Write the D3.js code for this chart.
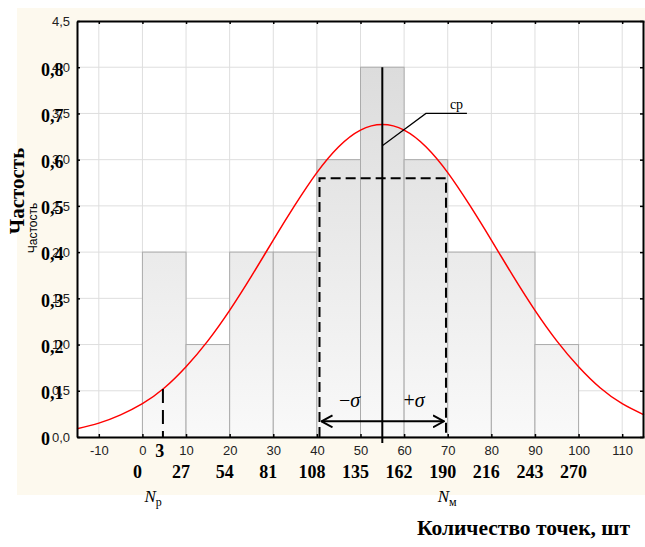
<!DOCTYPE html>
<html>
<head>
<meta charset="utf-8">
<script src="https://cdn.jsdelivr.net/npm/d3@7"></script>
<style>
  html, body { margin: 0; padding: 0; background: #fff; }
  svg { display: block; }
  .serif { font-family: "Liberation Serif", "Times New Roman", serif; }
  .sans { font-family: "Liberation Sans", Arial, sans-serif; }
</style>
</head>
<body>
<svg id="chart" width="645" height="547"></svg>
<script>
/** histogram bins (left edges, width 10) and their frequencies */
const binEdges = [0, 10, 20, 30, 40, 50, 60, 70, 80, 90, 100];
const counts = [2, 1, 2, 2, 3, 4, 3, 2, 2, 1];

/** fitted normal curve */
const curveX = [-15, -10, -5, 0, 5, 10, 15, 20, 25, 30, 35, 40, 45, 50, 55,
  60, 65, 70, 75, 80, 85, 90, 95, 100, 105, 110, 115];
const curveY = [0.09, 0.15, 0.24, 0.36, 0.53, 0.76, 1.04, 1.37, 1.74, 2.13,
  2.51, 2.86, 3.14, 3.32, 3.38, 3.32, 3.14, 2.86, 2.51, 2.13, 1.74, 1.37,
  1.04, 0.76, 0.53, 0.36, 0.24];

/** axis ticks and labels */
const xTicks = [-10, 0, 10, 20, 30, 40, 50, 60, 70, 80, 90, 100, 110];
const yTicks = [0, 0.5, 1, 1.5, 2, 2.5, 3, 3.5, 4, 4.5];
const yTickLabels = ["0,0", "0,5", "1,0", "1,5", "2,0", "2,5", "3,0", "3,5", "4,0", "4,5"];
const freqLabels = ["0", "0,1", "0,2", "0,3", "0,4", "0,5", "0,6", "0,7", "0,8"];
const pointTicks = [0, 10, 20, 30, 40, 50, 60, 70, 80, 90, 100];
const pointLabels = ["0", "27", "54", "81", "108", "135", "162", "190", "216", "243", "270"];

/** annotations */
const mean = 55;
const sigmaRange = [40.6, 69.6];
const sigmaBoxTop = 2.8;
const arrowLevel = 0.17;
const cutoff = 4.7;
const cutoffTop = 0.52;
const cutoffLabel = "3";
const meanLeader = [[55, 3.15], [65, 3.5], [74.4, 3.5]];

const svg = d3.select("#chart");
const width = 645;

/** plot frame */
const x = d3.scaleLinear().domain([-15, 115]).range([77, 644]);
const y = d3.scaleLinear().domain([0, 4.5]).range([437, 21]);

/** cream panel and white plot area */
svg.append("rect").attr("x", 17).attr("y", 8).attr("width", width - 17).attr("height", 487)
  .attr("fill", "#fdf9ee");
svg.append("rect").attr("x", x.range()[0]).attr("y", y.range()[1])
  .attr("width", x.range()[1] - x.range()[0]).attr("height", y.range()[0] - y.range()[1])
  .attr("fill", "#fff");

/** bar gradient spans the whole plot height */
const defs = svg.append("defs");
const grad = defs.append("linearGradient").attr("id", "barFill")
  .attr("gradientUnits", "userSpaceOnUse")
  .attr("x1", 0).attr("x2", 0).attr("y1", y(4)).attr("y2", y(0));
grad.append("stop").attr("offset", 0).attr("stop-color", "#dcdcdc");
grad.append("stop").attr("offset", 1).attr("stop-color", "#f9f9f9");

defs.append("marker").attr("id", "arrow")
  .attr("viewBox", "0 -7 12 14").attr("refX", 11).attr("refY", 0)
  .attr("markerWidth", 12).attr("markerHeight", 14)
  .attr("markerUnits", "userSpaceOnUse").attr("orient", "auto-start-reverse")
  .append("path").attr("d", "M0,-6L11,0L0,6").attr("fill", "none")
  .attr("stroke", "#000").attr("stroke-width", 2);

/** grid */
const grid = svg.append("g").attr("stroke", "#dedede").attr("stroke-width", 1);
grid.selectAll("line.v").data(xTicks).join("line").attr("class", "v")
  .attr("x1", (d) => x(d)).attr("x2", (d) => x(d))
  .attr("y1", y.range()[0]).attr("y2", y.range()[1]);
grid.selectAll("line.h").data(yTicks.slice(1, -1)).join("line").attr("class", "h")
  .attr("x1", x.range()[0]).attr("x2", x.range()[1])
  .attr("y1", (d) => y(d)).attr("y2", (d) => y(d));

/** histogram bars */
svg.append("g").selectAll("rect").data(counts).join("rect")
  .attr("x", (d, i) => x(binEdges[i]))
  .attr("width", (d, i) => x(binEdges[i + 1]) - x(binEdges[i]))
  .attr("y", (d) => y(d))
  .attr("height", (d) => y(0) - y(d))
  .attr("fill", "url(#barFill)")
  .attr("stroke", "#ababab").attr("stroke-width", 1);

/** normal curve */
const line = d3.line().curve(d3.curveNatural)
  .x((d, i) => x(curveX[i])).y((d) => y(d));
svg.append("path").attr("d", line(curveY))
  .attr("fill", "none").attr("stroke", "#ff0000").attr("stroke-width", 1.5);

/** +/- sigma dashed box */
const [s0, s1] = sigmaRange;
svg.append("path")
  .attr("d", `M${x(s0)},${y(0)}V${y(sigmaBoxTop)}H${x(s1)}V${y(0)}`)
  .attr("fill", "none").attr("stroke", "#000").attr("stroke-width", 2)
  .attr("stroke-dasharray", "10,5");

/** double arrow */
svg.append("line")
  .attr("x1", x(s0) + 2).attr("x2", x(s1) - 2)
  .attr("y1", y(arrowLevel)).attr("y2", y(arrowLevel))
  .attr("stroke", "#000").attr("stroke-width", 2)
  .attr("marker-start", "url(#arrow)").attr("marker-end", "url(#arrow)");

/** mean line */
svg.append("line")
  .attr("x1", x(mean)).attr("x2", x(mean))
  .attr("y1", y(4)).attr("y2", y(0) + 6)
  .attr("stroke", "#000").attr("stroke-width", 2);

/** cutoff dashed line */
svg.append("line")
  .attr("x1", x(cutoff)).attr("x2", x(cutoff))
  .attr("y1", y(cutoffTop)).attr("y2", y(0))
  .attr("stroke", "#000").attr("stroke-width", 2)
  .attr("stroke-dasharray", "14,7");

/** leader to "ср" */
svg.append("path")
  .attr("d", d3.line().x((d) => x(d[0])).y((d) => y(d[1]))(meanLeader))
  .attr("fill", "none").attr("stroke", "#000").attr("stroke-width", 1.2);
svg.append("text").attr("class", "serif")
  .attr("x", x(70.5)).attr("y", y(3.5) - 4)
  .attr("font-size", 14).text("ср");

/** sigma labels */
svg.append("text").attr("class", "serif")
  .attr("x", x(47.5)).attr("y", y(0.4)).attr("dy", "0.35em")
  .attr("text-anchor", "middle").attr("font-size", 20)
  .html('−<tspan font-style="italic">σ</tspan>');
svg.append("text").attr("class", "serif")
  .attr("x", x(62.3)).attr("y", y(0.4)).attr("dy", "0.35em")
  .attr("text-anchor", "middle").attr("font-size", 20)
  .html('+<tspan font-style="italic">σ</tspan>');

/** axes: ticks point inward on all four sides */
const styleAxis = (g) => {
  g.select(".domain").attr("stroke", "#000").attr("stroke-width", 2);
  g.selectAll(".tick line").attr("stroke", "#000").attr("stroke-width", 1.5);
  g.selectAll("text").attr("class", "sans").attr("font-size", 13).attr("fill", "#222");
};

svg.append("g").attr("transform", `translate(0,${y(0)})`)
  .call(d3.axisBottom(x).tickValues(xTicks).tickSize(-3).tickSizeOuter(0)
    .tickPadding(9).tickFormat((d) => String(d)))
  .call(styleAxis);

svg.append("g").attr("transform", `translate(${x.range()[0]},0)`)
  .call(d3.axisLeft(y).tickValues(yTicks).tickSize(-3).tickSizeOuter(0)
    .tickPadding(7).tickFormat((d, i) => yTickLabels[i]))
  .call(styleAxis);

svg.append("g").attr("transform", `translate(0,${y.range()[1]})`)
  .call(d3.axisTop(x).tickValues(xTicks).tickSize(-3).tickSizeOuter(0).tickFormat(""))
  .call(styleAxis);

svg.append("g").attr("transform", `translate(${x.range()[1] - 1},0)`)
  .call(d3.axisRight(y).tickValues(yTicks).tickSize(-3).tickSizeOuter(0).tickFormat(""))
  .call(styleAxis);

/** frequency labels laid over the left axis */
svg.append("g").selectAll("text").data(freqLabels).join("text")
  .attr("class", "serif").attr("font-weight", "bold").attr("font-size", 18)
  .attr("x", 41).attr("y", (d, i) => y(yTicks[i]) + 2).attr("dy", "0.35em")
  .text((d) => d);

/** point-count row under the x axis */
svg.append("g").selectAll("text").data(pointLabels).join("text")
  .attr("class", "serif").attr("font-weight", "bold").attr("font-size", 18)
  .attr("text-anchor", "middle")
  .attr("x", (d, i) => x(pointTicks[i]) - 5).attr("y", 472).attr("dy", "0.35em")
  .text((d) => d);

svg.append("text").attr("class", "serif").attr("font-weight", "bold").attr("font-size", 18)
  .attr("text-anchor", "middle").attr("x", x(4)).attr("y", 451).attr("dy", "0.35em")
  .text(cutoffLabel);

/** N_p and N_m */
svg.append("text").attr("class", "serif").attr("font-size", 17)
  .attr("x", x(0) + 2).attr("y", 502)
  .html('<tspan font-style="italic">N</tspan><tspan font-size="12" dy="4">р</tspan>');
svg.append("text").attr("class", "serif").attr("font-size", 17)
  .attr("x", x(70) - 10).attr("y", 502)
  .html('<tspan font-style="italic">N</tspan><tspan font-size="12" dy="4">м</tspan>');

/** titles */
svg.append("text").attr("class", "serif").attr("font-weight", "bold").attr("font-size", 21.5)
  .attr("text-anchor", "end").attr("x", 630).attr("y", 527).attr("dy", "0.35em")
  .text("Количество точек, шт");

svg.append("text").attr("class", "serif").attr("font-weight", "bold").attr("font-size", 21)
  .attr("text-anchor", "middle")
  .attr("transform", "translate(17,191) rotate(-90)").attr("dy", "0.35em")
  .text("Частость");

svg.append("text").attr("class", "sans").attr("font-size", 12)
  .attr("text-anchor", "middle")
  .attr("transform", "translate(33,228) rotate(-90)").attr("dy", "0.35em")
  .text("Частость");
</script>
</body>
</html>
